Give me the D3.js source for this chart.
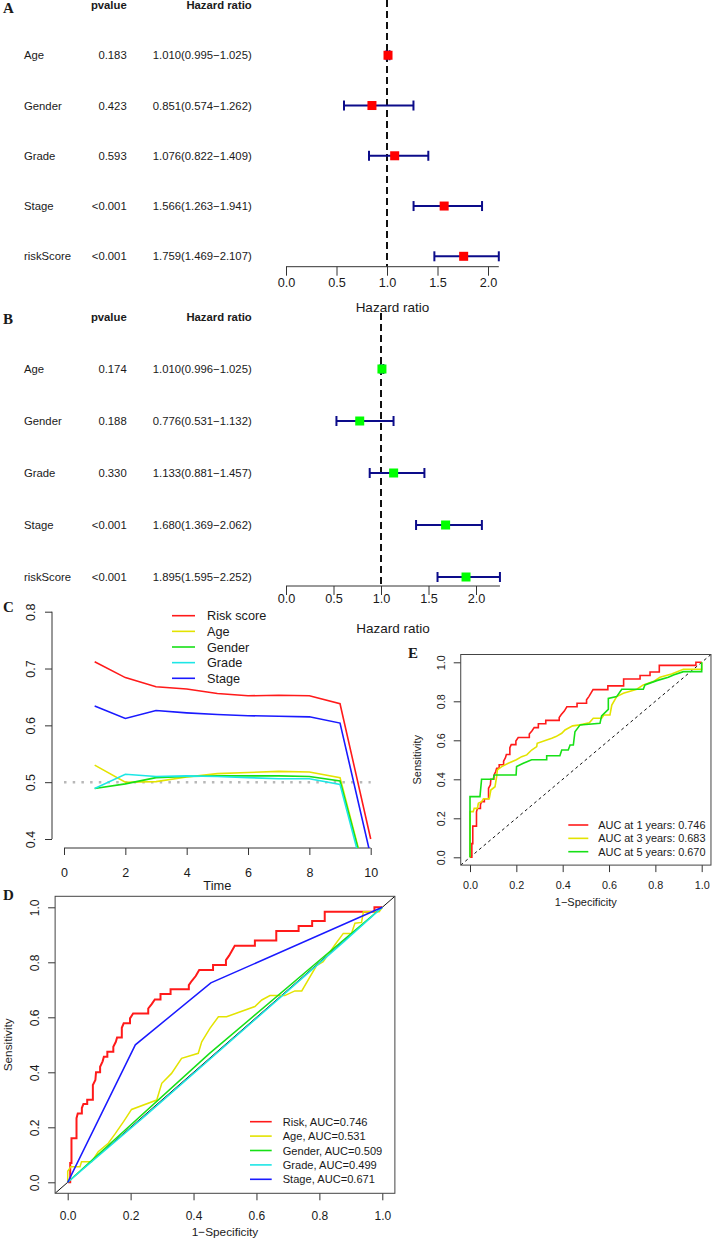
<!DOCTYPE html>
<html>
<head>
<meta charset="utf-8">
<script src="https://cdn.jsdelivr.net/npm/d3@7"></script>
<style>
    body { margin: 0; background: #fff; }
    text { font-family: "Liberation Sans", Arial, sans-serif; fill: #1a1a1a; }
</style>
</head>
<body>
<div id="canvas"></div>
<script>
"use strict"

let svgWidth = 712
let svgHeight = 1240

/* ---------- Data ---------- */

// A / B : forest tables (univariate and multivariate Cox)
let coxVars = ["Age", "Gender", "Grade", "Stage", "riskScore"]

let uniP = ["0.183", "0.423", "0.593", "<0.001", "<0.001"]
let uniHR = [1.010, 0.851, 1.076, 1.566, 1.759]
let uniLow = [0.995, 0.574, 0.822, 1.263, 1.469]
let uniHigh = [1.025, 1.262, 1.409, 1.941, 2.107]

let multiP = ["0.174", "0.188", "0.330", "<0.001", "<0.001"]
let multiHR = [1.010, 0.776, 1.133, 1.680, 1.895]
let multiLow = [0.996, 0.531, 0.881, 1.369, 1.595]
let multiHigh = [1.025, 1.132, 1.457, 2.062, 2.252]

let hrTicks = [0, 0.5, 1, 1.5, 2]

// C : C-index over time
let timePoints = [1, 2, 3, 4, 5, 6, 7, 8, 9, 10]
let cRisk = [0.712, 0.684, 0.668, 0.664, 0.656, 0.652, 0.653, 0.652, 0.638, 0.400]
let cAge = [0.530, 0.500, 0.501, 0.509, 0.515, 0.517, 0.519, 0.518, 0.508, 0.300]
let cGender = [0.489, 0.497, 0.508, 0.510, 0.511, 0.511, 0.511, 0.510, 0.502, 0.300]
let cGrade = [0.489, 0.514, 0.510, 0.511, 0.510, 0.508, 0.506, 0.506, 0.496, 0.290]
let cStage = [0.634, 0.612, 0.626, 0.622, 0.619, 0.617, 0.616, 0.615, 0.604, 0.370]
let cNames = ["Risk score", "Age", "Gender", "Grade", "Stage"]
let timeTicks = [0, 2, 4, 6, 8, 10]
let cTicks = [0.4, 0.5, 0.6, 0.7, 0.8]

// D : ROC of each factor  ([1-specificity, sensitivity])
let rocRisk = [[0, 0], [0.008, 0], [0.008, 0.07], [0.012, 0.07], [0.012, 0.16], [0.028, 0.16], [0.028, 0.233],
    [0.032, 0.25], [0.045, 0.25], [0.045, 0.27], [0.05, 0.285], [0.062, 0.285], [0.062, 0.30], [0.08, 0.30],
    [0.08, 0.354], [0.088, 0.372], [0.09, 0.40], [0.103, 0.40], [0.103, 0.42], [0.111, 0.44], [0.115, 0.457],
    [0.126, 0.457], [0.126, 0.475], [0.145, 0.475], [0.145, 0.493], [0.153, 0.511], [0.157, 0.527], [0.172, 0.527],
    [0.172, 0.562], [0.178, 0.578], [0.198, 0.578], [0.198, 0.596], [0.208, 0.614], [0.256, 0.614], [0.256, 0.632],
    [0.267, 0.648], [0.277, 0.665], [0.295, 0.665], [0.295, 0.685], [0.327, 0.685], [0.327, 0.702], [0.385, 0.702],
    [0.385, 0.717], [0.394, 0.732], [0.407, 0.75], [0.418, 0.772], [0.462, 0.772], [0.462, 0.79], [0.503, 0.79],
    [0.503, 0.808], [0.513, 0.824], [0.531, 0.86], [0.595, 0.86], [0.595, 0.879], [0.663, 0.879], [0.663, 0.914],
    [0.734, 0.914], [0.734, 0.932], [0.777, 0.932], [0.777, 0.95], [0.817, 0.95], [0.817, 0.984], [0.975, 0.984],
    [0.975, 1], [1, 1]]
let rocAge = [[0, 0], [0, 0.04], [0.01, 0.057], [0.039, 0.057], [0.044, 0.075], [0.076, 0.075], [0.097, 0.111],
    [0.129, 0.142], [0.15, 0.175], [0.177, 0.22], [0.203, 0.265], [0.283, 0.299], [0.299, 0.36], [0.33, 0.396],
    [0.362, 0.451], [0.415, 0.469], [0.426, 0.511], [0.452, 0.56], [0.479, 0.602], [0.505, 0.602], [0.595, 0.639],
    [0.617, 0.663], [0.643, 0.679], [0.69, 0.679], [0.722, 0.696], [0.744, 0.696], [0.791, 0.788], [0.812, 0.802],
    [0.849, 0.863], [0.876, 0.905], [0.902, 0.905], [0.913, 0.942], [0.934, 0.945], [0.94, 0.984], [0.99, 0.984], [1, 1]]
let rocGender = [[0, 0], [0.45, 0.468], [1, 1]]
let rocGrade = [[0, 0], [0.25, 0.245], [0.6, 0.596], [0.88, 0.877], [1, 1]]
let rocStage = [[0, 0], [0.215, 0.5], [0.455, 0.725], [1, 1]]
let dNames = ["Risk", "Age", "Gender", "Grade", "Stage"]
let dAuc = ["0.746", "0.531", "0.509", "0.499", "0.671"]

// E : time dependent ROC of the risk score (1 year curve = Risk curve in D)
let roc3y = [[0, 0], [0, 0.234], [0.014, 0.234], [0.018, 0.251], [0.032, 0.251], [0.036, 0.277], [0.05, 0.285],
    [0.058, 0.30], [0.083, 0.30], [0.09, 0.345], [0.108, 0.362], [0.115, 0.414], [0.118, 0.448], [0.137, 0.465],
    [0.165, 0.482], [0.2, 0.5], [0.223, 0.516], [0.245, 0.525], [0.266, 0.55], [0.288, 0.568], [0.29, 0.585],
    [0.331, 0.602], [0.353, 0.61], [0.371, 0.619], [0.396, 0.636], [0.41, 0.653], [0.443, 0.674], [0.475, 0.679],
    [0.515, 0.69], [0.532, 0.713], [0.568, 0.713], [0.578, 0.73], [0.604, 0.73], [0.612, 0.781], [0.633, 0.824],
    [0.662, 0.841], [0.72, 0.862], [0.748, 0.884], [0.791, 0.901], [0.82, 0.923], [0.87, 0.94], [0.921, 0.964],
    [1, 0.964], [1, 1]]
let roc5y = [[0, 0], [0, 0.311], [0.043, 0.311], [0.05, 0.40], [0.1, 0.40], [0.105, 0.422], [0.199, 0.422],
    [0.201, 0.465], [0.23, 0.482], [0.266, 0.5], [0.331, 0.5], [0.331, 0.521], [0.388, 0.521], [0.396, 0.55],
    [0.424, 0.55], [0.432, 0.576], [0.446, 0.576], [0.453, 0.644], [0.475, 0.679], [0.561, 0.687], [0.568, 0.725],
    [0.597, 0.759], [0.597, 0.815], [0.633, 0.824], [0.655, 0.862], [0.748, 0.862], [0.755, 0.884], [0.806, 0.906],
    [0.856, 0.923], [0.878, 0.935], [0.921, 0.952], [1, 0.952], [1, 1]]
let eYears = ["1", "3", "5"]
let eAuc = ["0.746", "0.683", "0.670"]

let rocTicks = [0, 0.2, 0.4, 0.6, 0.8, 1]

/* ---------- Styles ---------- */
let colRed = "#ff1a1a"
let colYellow = "#e3e300"
let colGreen = "#16e016"
let colCyan = "#1de6e6"
let colBlue = "#1a1aff"
let barColor = "#0c0c8a"
let axisColor = "#333"
let serif = "'Liberation Serif', 'Times New Roman', serif"

let svg = d3.select("#canvas")
    .append("svg")
    .attr("width", svgWidth)
    .attr("height", svgHeight)

svg.append("rect")
    .attr("width", svgWidth)
    .attr("height", svgHeight)
    .attr("fill", "#fff")

// panel letters
let letters = [["A", 3, 13], ["B", 3, 324], ["C", 3, 612], ["D", 3, 900], ["E", 408, 658]]
letters.forEach(function (l) {
    svg.append("text")
        .attr("x", l[1])
        .attr("y", l[2])
        .text(l[0])
        .style("font-family", serif)
        .style("font-weight", "bold")
        .style("font-size", "15px")
})

/* tidy a d3 axis to look like base R graphics */
function styleAxis(g, size) {
    g.select(".domain").remove()
    g.selectAll(".tick line").attr("stroke", axisColor)
    g.selectAll(".tick text")
        .style("font-family", "'Liberation Sans', Arial, sans-serif")
        .style("font-size", size + "px")
        .attr("fill", "#1a1a1a")
}

function xLabels(g, off) {
    g.selectAll(".tick text").attr("y", off).attr("dy", null)
}

function yLabelsRotated(g, off) {
    g.selectAll(".tick text")
        .attr("transform", "rotate(-90)")
        .attr("x", 0)
        .attr("y", -off)
        .attr("dy", null)
        .style("text-anchor", "middle")
}

/* ---------- A and B: forest plots ---------- */
function drawForest(p, hr, low, high, lay) {
    let g = svg.append("g")
    let xHR = d3.scaleLinear().domain([0, 1]).range([lay.x0, lay.x0 + lay.unit])
    let yRow = d3.scaleLinear().domain([0, coxVars.length]).range([lay.top, lay.bottom])
    let maxHigh = d3.max(high)

    // header
    g.append("text").attr("x", 126.7).attr("y", yRow(0) + 4)
        .style("text-anchor", "end").style("font-weight", "bold").style("font-size", "11.3px")
        .text("pvalue")
    g.append("text").attr("x", 251.7).attr("y", yRow(0) + 4)
        .style("text-anchor", "end").style("font-weight", "bold").style("font-size", "11.3px")
        .text("Hazard ratio")

    // table text
    for (let i = 0; i < coxVars.length; i++) {
        let yy = yRow(i + 1) + 4
        g.append("text").attr("x", 24).attr("y", yy).style("font-size", "11.3px").text(coxVars[i])
        g.append("text").attr("x", 126.7).attr("y", yy).style("font-size", "11.3px")
            .style("text-anchor", "end").text(p[i])
        g.append("text").attr("x", 251.7).attr("y", yy).style("font-size", "11.3px")
            .style("text-anchor", "end")
            .text(hr[i].toFixed(3) + "(" + low[i].toFixed(3) + "\u2212" + high[i].toFixed(3) + ")")
    }

    // reference line at HR = 1
    g.append("line")
        .attr("x1", xHR(1)).attr("x2", xHR(1))
        .attr("y1", lay.dashTop).attr("y2", lay.axisY)
        .attr("stroke", "#111").attr("stroke-width", 2)
        .attr("stroke-dasharray", "7,4")

    // confidence intervals
    for (let i = 0; i < coxVars.length; i++) {
        let yy = yRow(i + 1)
        g.append("line").attr("x1", xHR(low[i])).attr("x2", xHR(high[i]))
            .attr("y1", yy).attr("y2", yy)
            .attr("stroke", barColor).attr("stroke-width", 2)
        let ends = [low[i], high[i]]
        ends.forEach(function (v) {
            g.append("line").attr("x1", xHR(v)).attr("x2", xHR(v))
                .attr("y1", yy - 5).attr("y2", yy + 5)
                .attr("stroke", barColor).attr("stroke-width", 2)
        })
    }

    g.selectAll("rect.hr")
        .data(hr)
        .join("rect")
        .attr("class", "hr")
        .attr("x", function (d) { return xHR(d) - 4.5 })
        .attr("y", function (d, i) { return yRow(i + 1) - 4.5 })
        .attr("width", 9)
        .attr("height", 9)
        .attr("fill", lay.color)

    // axis
    let ax = g.append("g")
        .attr("transform", `translate(0,${lay.axisY})`)
        .call(d3.axisBottom(xHR).tickValues(hrTicks).tickFormat(d3.format(".1f")).tickSize(9).tickSizeOuter(0))
    styleAxis(ax, 12.7)
    xLabels(ax, lay.labelY - lay.axisY)
    g.append("line")
        .attr("x1", xHR(0)).attr("x2", xHR(maxHigh))
        .attr("y1", lay.axisY).attr("y2", lay.axisY)
        .attr("stroke", axisColor)

    g.append("text")
        .attr("x", xHR(maxHigh / 2))
        .attr("y", lay.titleY)
        .style("text-anchor", "middle")
        .style("font-size", "13.5px")
        .text("Hazard ratio")
}

drawForest(uniP, uniHR, uniLow, uniHigh,
    { x0: 286, unit: 101, top: 5, bottom: 256.3, axisY: 266.7, labelY: 287.5, titleY: 312, dashTop: 0, color: "#ff0000" })
drawForest(multiP, multiHR, multiLow, multiHigh,
    { x0: 286, unit: 95, top: 317, bottom: 577, axisY: 586, labelY: 603, titleY: 633, dashTop: 313, color: "#00ff00" })

/* ---------- C: C-index curves ---------- */
function drawCindex() {
    let g = svg.append("g")
    let xT = d3.scaleLinear().domain([0, 10]).range([64, 370.7])
    let yC = d3.scaleLinear().domain([0.4, 0.8]).range([839, 611.7])

    g.append("clipPath").attr("id", "clipC")
        .append("rect")
        .attr("x", xT(-0.4)).attr("y", yC(0.816))
        .attr("width", xT(10.4) - xT(-0.4))
        .attr("height", yC(0.384) - yC(0.816))

    // y axis
    let ay = g.append("g").attr("transform", "translate(52,0)")
        .call(d3.axisLeft(yC).tickValues(cTicks).tickFormat(d3.format(".1f")).tickSize(7))
    styleAxis(ay, 12.5)
    yLabelsRotated(ay, 17)
    g.append("line").attr("x1", 52).attr("x2", 52)
        .attr("y1", yC(0.8)).attr("y2", yC(0.4)).attr("stroke", axisColor)

    // x axis
    let ax = g.append("g").attr("transform", "translate(0,848)")
        .call(d3.axisBottom(xT).tickValues(timeTicks).tickSize(7))
    styleAxis(ax, 12.5)
    xLabels(ax, 29)
    g.append("line").attr("x1", xT(0)).attr("x2", xT(10))
        .attr("y1", 848).attr("y2", 848).attr("stroke", axisColor)

    g.append("text").attr("x", (xT(0) + xT(10)) / 2).attr("y", 890)
        .style("text-anchor", "middle").style("font-size", "12.8px").text("Time")

    // reference line at 0.5
    g.append("line")
        .attr("x1", xT(0)).attr("x2", xT(10))
        .attr("y1", yC(0.5)).attr("y2", yC(0.5))
        .attr("stroke", "#b8b8b8").attr("stroke-width", 2.5)
        .attr("stroke-dasharray", "2.5,6.2")

    let series = [cRisk, cAge, cGender, cGrade, cStage]
    let colors = [colRed, colYellow, colGreen, colCyan, colBlue]
    let line = d3.line()
        .x(function (d, i) { return xT(timePoints[i]) })
        .y(function (d) { return yC(d) })

    g.append("g").attr("clip-path", "url(#clipC)")
        .selectAll("path")
        .data(series)
        .join("path")
        .attr("d", line)
        .attr("fill", "none")
        .attr("stroke", function (d, i) { return colors[i] })
        .attr("stroke-width", 1.6)

    for (let i = 0; i < cNames.length; i++) {
        let yy = 615.7 + i * 15.65
        g.append("line").attr("x1", 172).attr("x2", 195).attr("y1", yy).attr("y2", yy)
            .attr("stroke", colors[i]).attr("stroke-width", 1.6)
        g.append("text").attr("x", 207).attr("y", yy + 4.5)
            .style("font-size", "12.7px").text(cNames[i])
    }
}
drawCindex()

/* ---------- D and E: ROC panels ---------- */
function drawRoc(lay, curves, colors, labels, widths) {
    let g = svg.append("g")
    let xF = d3.scaleLinear().domain([0, 1]).range([lay.x0, lay.x1])
    let yS = d3.scaleLinear().domain([0, 1]).range([lay.y0, lay.y1])
    let bx0 = xF(-0.04), bx1 = xF(1.04), by0 = yS(-0.04), by1 = yS(1.04)

    g.append("clipPath").attr("id", lay.id)
        .append("rect").attr("x", bx0).attr("y", by1)
        .attr("width", bx1 - bx0).attr("height", by0 - by1)

    let ax = g.append("g").attr("transform", `translate(0,${by0})`)
        .call(d3.axisBottom(xF).tickValues(rocTicks).tickFormat(d3.format(".1f")).tickSize(7))
    styleAxis(ax, lay.tickFont)
    xLabels(ax, lay.xLabOff)

    let ay = g.append("g").attr("transform", `translate(${bx0},0)`)
        .call(d3.axisLeft(yS).tickValues(rocTicks).tickFormat(d3.format(".1f")).tickSize(7))
    styleAxis(ay, lay.tickFont)
    yLabelsRotated(ay, lay.yLabOff)

    g.append("text").attr("x", (xF(0) + xF(1)) / 2).attr("y", lay.xTitleY)
        .style("text-anchor", "middle").style("font-size", lay.titleFont + "px")
        .text("1\u2212Specificity")
    g.append("text")
        .attr("transform", `translate(${lay.yTitleX},${(yS(0) + yS(1)) / 2}) rotate(-90)`)
        .style("text-anchor", "middle").style("font-size", lay.titleFont + "px")
        .text("Sensitivity")

    let plot = g.append("g").attr("clip-path", `url(#${lay.id})`)
    plot.append("line")
        .attr("x1", bx0).attr("y1", by0).attr("x2", bx1).attr("y2", by1)
        .attr("stroke", "#111").attr("stroke-width", 1)
        .attr("stroke-dasharray", lay.diagDash)

    let line = d3.line()
        .x(function (d) { return xF(d[0]) })
        .y(function (d) { return yS(d[1]) })

    plot.selectAll("path.roc")
        .data(curves)
        .join("path")
        .attr("class", "roc")
        .attr("d", line)
        .attr("fill", "none")
        .attr("stroke", function (d, i) { return colors[i] })
        .attr("stroke-width", function (d, i) { return widths[i] })

    g.append("rect")
        .attr("x", bx0).attr("y", by1)
        .attr("width", bx1 - bx0).attr("height", by0 - by1)
        .attr("fill", "none").attr("stroke", "#444").attr("stroke-width", 1)

    for (let i = 0; i < labels.length; i++) {
        let yy = lay.legY + i * lay.legStep
        g.append("line").attr("x1", lay.legX0).attr("x2", lay.legX1).attr("y1", yy).attr("y2", yy)
            .attr("stroke", colors[i]).attr("stroke-width", 1.6)
        g.append("text").attr("x", lay.legText).attr("y", yy + 4)
            .style("font-size", lay.legFont + "px").text(labels[i])
    }
}

let dLabels = dNames.map(function (n, i) { return n + ", AUC=" + dAuc[i] })
drawRoc({ id: "clipD", x0: 67.7, x1: 382.3, y0: 1182.3, y1: 907.3, tickFont: 12, xLabOff: 26.7, yLabOff: 16,
        xTitleY: 1236, yTitleX: 12, titleFont: 11.8, diagDash: null,
        legY: 1121.7, legStep: 14.4, legX0: 250, legX1: 271.7, legText: 282.7, legFont: 11.1 },
    [rocRisk, rocAge, rocGender, rocGrade, rocStage],
    [colRed, colYellow, colGreen, colCyan, colBlue], dLabels, [2, 1.5, 1.5, 1.5, 1.5])

let eLabels = eYears.map(function (y, i) { return "AUC at " + y + " years: " + eAuc[i] })
drawRoc({ id: "clipE", x0: 470, x1: 701.7, y0: 857.3, y1: 662.3, tickFont: 10.8, xLabOff: 24, yLabOff: 15.7,
        xTitleY: 906, yTitleX: 421, titleFont: 11, diagDash: "3,3",
        legY: 825, legStep: 13.35, legX0: 568.3, legX1: 588.3, legText: 598.3, legFont: 10.9 },
    [rocRisk, roc3y, roc5y],
    [colRed, colYellow, colGreen], eLabels, [1.6, 1.6, 1.6])
</script>
</body>
</html>
